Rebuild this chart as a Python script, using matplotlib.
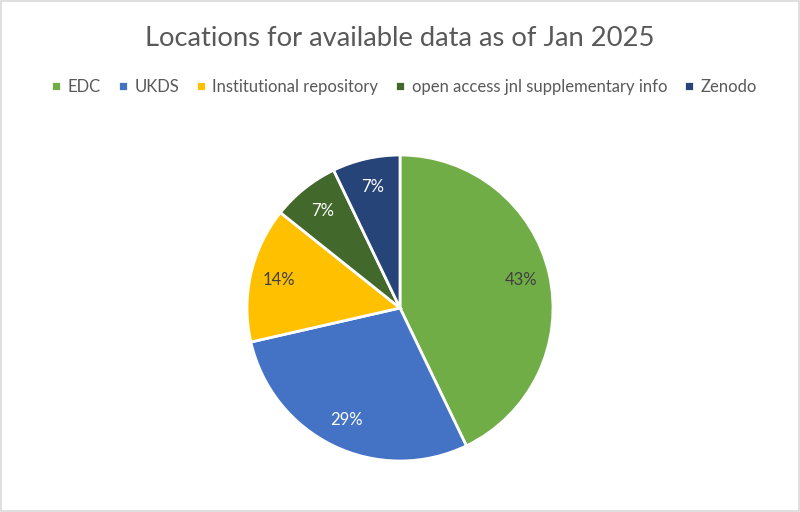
import matplotlib
matplotlib.use("Agg")
import matplotlib.pyplot as plt
from matplotlib.patches import Rectangle

plt.rcParams["font.family"] = ["Lato", "DejaVu Sans"]

categories = ["EDC", "UKDS", "Institutional repository",
              "open access jnl supplementary info", "Zenodo"]
counts = [6, 4, 2, 1, 1]
colors = ["#70AD47", "#4472C4", "#FFC000", "#43682B", "#264478"]
label_colors = ["#404040", "white", "#404040", "white", "white"]

fig = plt.figure(figsize=(8, 5.12), dpi=100)
fig.patches.append(Rectangle((0.001, 0.001), 0.998, 0.997, transform=fig.transFigure,
                             fill=False, edgecolor="#D9D9D9", linewidth=1.2))

ax = fig.add_axes([0.30875, 0.0996, 0.3825, 0.5977])
wedges, texts, autotexts = ax.pie(
    counts, colors=colors, startangle=90, counterclock=False,
    autopct="%1.0f%%", pctdistance=0.81,
    wedgeprops=dict(edgecolor="white", linewidth=2),
    textprops=dict(fontsize=12),
)
for t, c in zip(autotexts, label_colors):
    t.set_color(c)
ax.set_xlim(-1, 1)
ax.set_ylim(-1, 1)
ax.set_aspect("equal")
ax.axis("off")

fig.text(0.5, 0.925, "Locations for available data as of Jan 2025",
         ha="center", va="center", fontsize=19.7, color="#595959")

fig.legend(wedges, categories, loc="center", bbox_to_anchor=(0.505, 0.83),
           ncol=5, frameon=False, fontsize=12, handlelength=0.6, handleheight=0.6,
           handletextpad=0.4, columnspacing=1.0, labelcolor="#595959")

fig.savefig("out.png", dpi=100)
